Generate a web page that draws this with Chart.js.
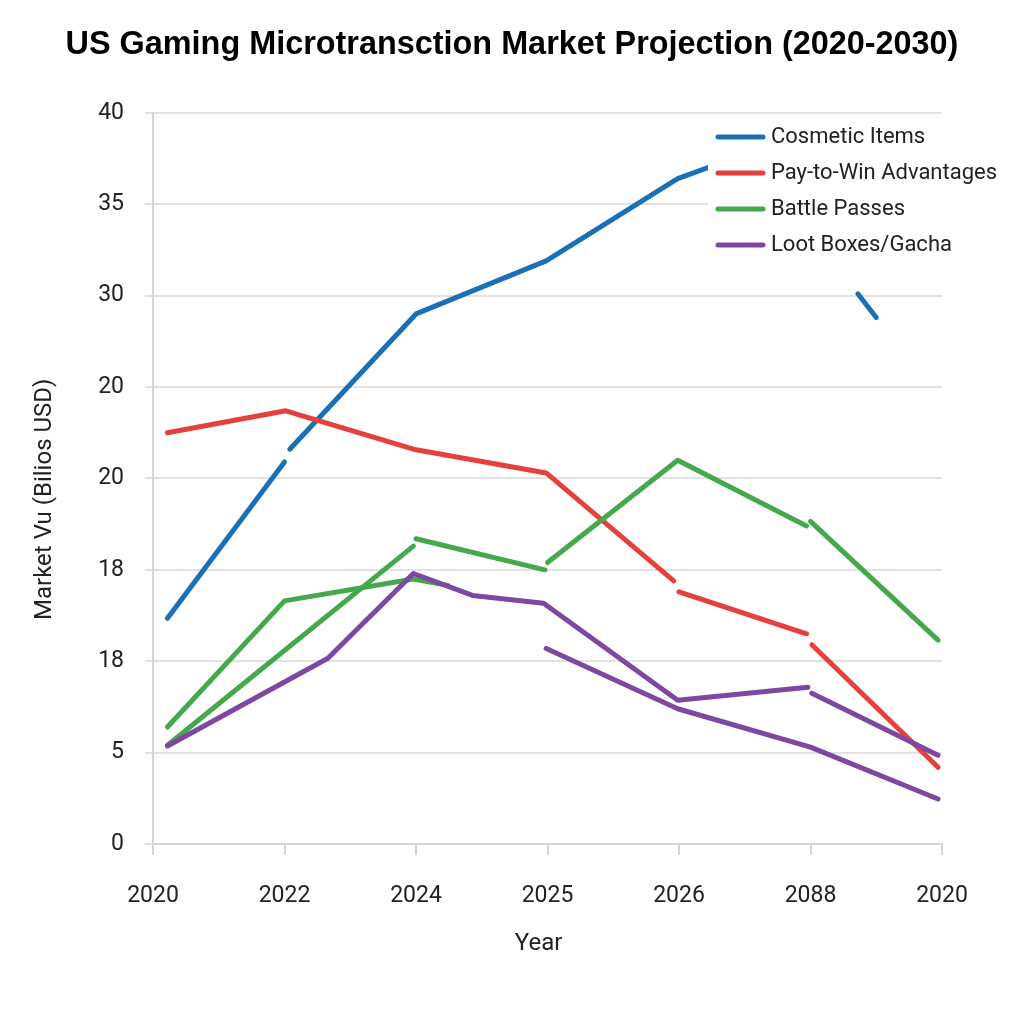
<!DOCTYPE html>
<html>
<head>
<meta charset="utf-8">
<title>US Gaming Microtransction Market Projection</title>
<script src="https://cdn.jsdelivr.net/npm/chart.js@4.4.1/dist/chart.umd.min.js"></script>
<style>
  html, body { margin: 0; padding: 0; background: #fff; }
  #wrap { width: 1024px; height: 1024px; }
</style>
</head>
<body>
<div id="wrap"><canvas id="chart" width="1024" height="1024"></canvas></div>
<script>
// etiquetas tal como aparecen en el gráfico
const xLabels = ['2020', '2022', '2024', '2025', '2026', '2088', '2020'];
const yTickLabels = ['0', '5', '18', '18', '20', '20', '30', '35', '40'];
const seriesNames = ['Cosmetic Items', 'Pay-to-Win Advantages', 'Battle Passes', 'Loot Boxes/Gacha'];
const seriesColors = ['#1a70b6', '#e5403d', '#45a84d', '#7e47a1'];

// posición en el eje x (0 = primera categoría) y valor; null = corte de la línea
const cosmeticX = [0.11, 1.0, 1.02, 1.04, 2.0, 2.99, 3.99, 4.22, 4.8, 5.36, 5.5];
const cosmeticY = [12.35, 20.9, null, 21.6, 29.0, 31.9, 36.4, 37.0, null, 30.1, 28.8];

const payToWinX = [0.11, 1.01, 1.98, 2.99, 3.96, 3.98, 4.0, 4.97, 4.99, 5.01, 5.97];
const payToWinY = [22.5, 23.7, 21.6, 20.3, 14.4, null, 13.8, 11.5, null, 10.9, 4.2];

const battleAX = [0.11, 1.0, 1.98, 2.24];
const battleAY = [6.4, 13.3, 14.5, 14.15];

const battleBX = [0.11, 1.98, 1.99, 2.0, 2.98, 2.99, 3.0, 3.99, 4.97, 4.985, 5.0, 5.97];
const battleBY = [5.4, 16.3, null, 16.7, 15.0, null, 15.4, 21.0, 17.4, null, 17.65, 11.15];

const lootAX = [0.11, 1.33, 1.98, 2.43, 2.97, 3.99, 4.98, 4.995, 5.01, 5.97];
const lootAY = [5.36, 10.16, 14.8, 13.6, 13.17, 7.87, 8.58, null, 8.25, 4.86];

const lootBX = [2.99, 3.99, 5.0, 5.97];
const lootBY = [10.7, 7.4, 5.3, 2.46];

function points(xs, ys) {
    return xs.map((x, i) => ({ x: x, y: ys[i] }));
}

function lineSet(label, xs, ys, color, order) {
    return {
        label: label,
        data: points(xs, ys),
        borderColor: color,
        backgroundColor: color,
        borderWidth: 5,
        borderCapStyle: 'round',
        borderJoinStyle: 'round',
        pointRadius: 0,
        pointHoverRadius: 0,
        tension: 0,
        spanGaps: false,
        fill: false,
        order: order
    };
}

// leyenda dibujada encima de las líneas, con fondo blanco
const legendBox = {
    id: 'legendBox',
    afterDatasetsDraw(chart) {
        const ctx = chart.ctx;
        const area = chart.chartArea;
        const left = area.right - 234;
        const top = area.top + 4;
        ctx.save();
        ctx.fillStyle = '#ffffff';
        ctx.fillRect(left, top, 320, 174);
        ctx.font = '22px Roboto';
        ctx.textBaseline = 'middle';
        ctx.textAlign = 'left';
        seriesNames.forEach((name, i) => {
            const y = area.top + 24 + i * 36;
            ctx.strokeStyle = seriesColors[i];
            ctx.lineWidth = 5;
            ctx.lineCap = 'round';
            ctx.beginPath();
            ctx.moveTo(left + 10, y);
            ctx.lineTo(left + 55, y);
            ctx.stroke();
            ctx.fillStyle = '#222222';
            ctx.fillText(name, left + 63, y + 1);
        });
        ctx.restore();
    }
};

new Chart(document.getElementById('chart'), {
    type: 'line',
    data: {
        datasets: [
            lineSet(seriesNames[0], cosmeticX, cosmeticY, seriesColors[0], 3),
            lineSet(seriesNames[1], payToWinX, payToWinY, seriesColors[1], 2),
            lineSet(seriesNames[2], battleAX, battleAY, seriesColors[2], 1),
            lineSet(seriesNames[2], battleBX, battleBY, seriesColors[2], 1),
            lineSet(seriesNames[3], lootAX, lootAY, seriesColors[3], 0),
            lineSet(seriesNames[3], lootBX, lootBY, seriesColors[3], 0)
        ]
    },
    options: {
        responsive: false,
        animation: false,
        layout: { padding: 0 },
        plugins: {
            legend: { display: false },
            tooltip: { enabled: false },
            title: {
                display: true,
                text: 'US Gaming Microtransction Market Projection (2020-2030)',
                color: '#000000',
                font: { family: 'Liberation Sans', size: 32.4, weight: 'bold' },
                padding: { top: 26, bottom: 48 }
            }
        },
        scales: {
            x: {
                type: 'linear',
                min: 0,
                max: 6,
                afterFit(scale) { scale.height = 180; },
                ticks: {
                    stepSize: 1,
                    autoSkip: false,
                    maxRotation: 0,
                    padding: 27,
                    color: '#222222',
                    font: { family: 'Roboto', size: 23 },
                    callback: (v) => xLabels[v]
                },
                grid: {
                    drawOnChartArea: false,
                    drawTicks: true,
                    tickLength: 11,
                    color: '#d6d6d6',
                    lineWidth: 2
                },
                border: { display: true, color: '#d6d6d6', width: 2 },
                title: {
                    display: true,
                    text: 'Year   ',
                    color: '#222222',
                    font: { family: 'Roboto', size: 24 },
                    padding: { top: 0, bottom: 66 }
                }
            },
            y: {
                type: 'linear',
                min: 0,
                max: 40,
                afterFit(scale) { scale.width = 153; },
                ticks: {
                    stepSize: 5,
                    padding: 21,
                    color: '#222222',
                    font: { family: 'Roboto', size: 23 },
                    callback: (v, i) => yTickLabels[i]
                },
                grid: {
                    drawOnChartArea: true,
                    tickLength: 8,
                    color: '#e2e2e2',
                    lineWidth: 2
                },
                border: { display: true, color: '#d6d6d6', width: 2 },
                title: {
                    display: true,
                    text: 'Market Vu (Bilios USD)       ',
                    color: '#222222',
                    font: { family: 'Roboto', size: 24 },
                    padding: { top: 31, bottom: 0 }
                }
            },
            // eje vacío a la derecha solo para reservar el margen
            yRight: {
                type: 'linear',
                position: 'right',
                min: 0,
                max: 40,
                afterFit(scale) { scale.width = 82; },
                ticks: { display: false },
                grid: { display: false },
                border: { display: false }
            }
        }
    },
    plugins: [legendBox]
});
</script>
</body>
</html>
